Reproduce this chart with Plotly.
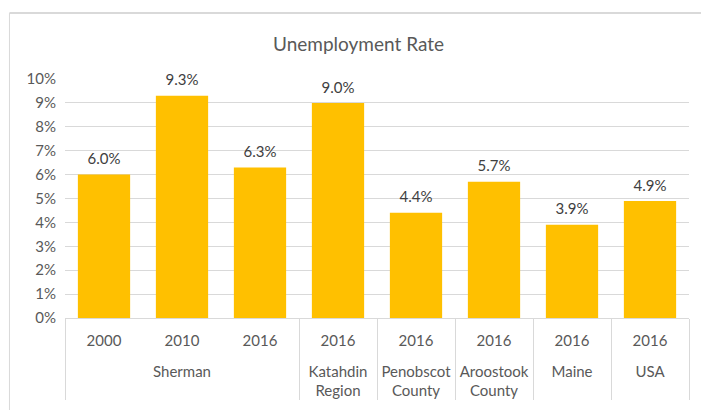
import plotly.graph_objects as go

groups = ["<br>Sherman", "<br>Sherman", "<br>Sherman", "<br>Katahdin<br>Region", "<br>Penobscot<br>County",
          "<br>Aroostook<br>County", "<br>Maine", "<br>USA"]
years = ["2000", "2010", "2016", "2016", "2016", "2016", "2016", "2016"]
rates = [6.0, 9.3, 6.3, 9.0, 4.4, 5.7, 3.9, 4.9]
y_ticks = list(range(0, 11))
y_labels = [f"{v}%" for v in y_ticks]

FONT = "Lato, Open Sans, sans-serif"

fig = go.Figure()
fig.add_trace(go.Bar(
    x=[groups, years],
    y=rates,
    marker=dict(color="#FFC000", line=dict(width=0)),
    hoverinfo="skip",
))
fig.add_trace(go.Scatter(
    x=[groups, years],
    y=rates,
    mode="markers+text",
    marker=dict(size=9, opacity=0),
    text=[f"{v:.1f}%" for v in rates],
    textposition="top center",
    textfont=dict(size=15, color="#404040", family=FONT),
    cliponaxis=False,
))

fig.update_layout(
    width=701, height=406,
    margin=dict(l=57, r=20, t=71, b=96, autoexpand=False),
    paper_bgcolor="white", plot_bgcolor="white",
    bargap=0.33,
    showlegend=False,
    title=dict(text="Unemployment Rate", x=0.5, xanchor="center", y=0.911, yanchor="middle",
               font=dict(size=19, color="#595959", family=FONT)),
    font=dict(family=FONT, size=15, color="#595959"),
)
fig.update_yaxes(range=[0, 10], tickvals=y_ticks, ticktext=y_labels, automargin=False,
                 showgrid=True, gridcolor="#d9d9d9", gridwidth=1, zeroline=False,
                 ticks="", ticklabelstandoff=8,
                 tickfont=dict(size=15, color="#595959"))
fig.update_xaxes(type="multicategory", showline=True, linecolor="#d9d9d9", linewidth=1,
                 automargin=False, ticklabelstandoff=9,
                 showdividers=True, dividercolor="#d9d9d9", dividerwidth=1,
                 tickfont=dict(size=15, color="#595959"))

fig.add_shape(type="line", xref="paper", yref="paper", x0=-0.089, x1=1.04, y0=1.276, y1=1.276,
              line=dict(color="#d9d9d9", width=2))
fig.add_shape(type="line", xref="paper", yref="paper", x0=-0.089, x1=-0.089, y0=1.276, y1=-0.385,
              line=dict(color="#d9d9d9", width=1))

fig.write_html("out.html")
